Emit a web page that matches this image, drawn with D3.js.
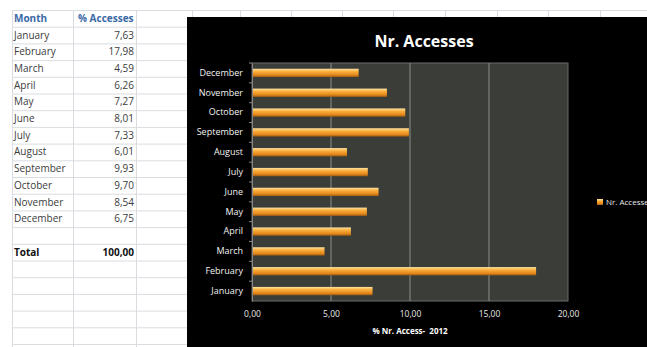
<!DOCTYPE html>
<html>
<head>
<meta charset="utf-8">
<script src="https://cdn.jsdelivr.net/npm/d3@7"></script>
<style>
  body { margin: 0; background: #fff; }
  svg { display: block; font-family: "Open Sans", sans-serif; }
</style>
</head>
<body>
<div id="chart"></div>
<script>
// table + chart data
var months = ["January", "February", "March", "April", "May", "June",
              "July", "August", "September", "October", "November", "December"];
var accesses = [7.63, 17.98, 4.59, 6.26, 7.27, 8.01, 7.33, 6.01, 9.93, 9.70, 8.54, 6.75];
var xTicks = [0, 5, 10, 15, 20];
var chartTitle = "Nr. Accesses";
var axisTitle = "% Nr. Access-  2012";
var seriesName = "Nr. Accesses";

var W = 647, H = 347;
var fmt = function(v) { return d3.format(".2f")(v).replace(".", ","); };

var svg = d3.select("#chart").append("svg")
    .attr("width", W)
    .attr("height", H);

// ---- spreadsheet behind ----
var rowTop = 10, rowH = 16.7;
var nRows = Math.ceil((H - rowTop) / rowH) + 1;
var sheet = svg.append("g").attr("class", "sheet");

sheet.selectAll(".hline")
    .data(d3.range(nRows))
    .enter().append("line")
    .attr("x1", 12).attr("x2", W)
    .attr("y1", function(i) { return rowTop + i * rowH + 0.5; })
    .attr("y2", function(i) { return rowTop + i * rowH + 0.5; })
    .attr("stroke", "#d9dce0");

sheet.selectAll(".vline")
    .data([12, 73, 136, 192, 240, 291, 342, 393, 445, 497, 548, 600])
    .enter().append("line")
    .attr("x1", function(d) { return d + 0.5; })
    .attr("x2", function(d) { return d + 0.5; })
    .attr("y1", rowTop).attr("y2", H)
    .attr("stroke", "#d9dce0");

function rowY(i) { return rowTop + i * rowH + rowH / 2; }

sheet.append("text")
    .attr("x", 14).attr("y", rowY(0)).attr("dy", "0.35em")
    .attr("font-size", 10).attr("font-weight", "bold").attr("fill", "#3a6aa6")
    .text("Month");
sheet.append("text")
    .attr("x", 78).attr("y", rowY(0)).attr("dy", "0.35em")
    .attr("font-size", 10).attr("font-weight", "bold").attr("fill", "#3a6aa6")
    .text("% Accesses");

sheet.selectAll(".mname")
    .data(months)
    .enter().append("text")
    .attr("x", 14)
    .attr("y", function(d, i) { return rowY(i + 1); })
    .attr("dy", "0.35em")
    .attr("font-size", 10).attr("fill", "#3c3c3c")
    .text(function(d) { return d; });

sheet.selectAll(".mval")
    .data(accesses)
    .enter().append("text")
    .attr("x", 134)
    .attr("y", function(d, i) { return rowY(i + 1); })
    .attr("dy", "0.35em")
    .attr("text-anchor", "end")
    .attr("font-size", 10).attr("fill", "#3c3c3c")
    .text(function(d) { return fmt(d); });

sheet.append("text")
    .attr("x", 14).attr("y", rowY(14)).attr("dy", "0.35em")
    .attr("font-size", 10).attr("font-weight", "bold").attr("fill", "#111")
    .text("Total");
sheet.append("text")
    .attr("x", 134).attr("y", rowY(14)).attr("dy", "0.35em")
    .attr("text-anchor", "end")
    .attr("font-size", 10).attr("font-weight", "bold").attr("fill", "#111")
    .text(fmt(d3.sum(accesses)));

// ---- chart ----
var chartBox = { x: 187, y: 17 };
var plot = { left: 252, top: 63, right: 568, bottom: 301 };

svg.append("rect")
    .attr("x", chartBox.x).attr("y", chartBox.y)
    .attr("width", W - chartBox.x).attr("height", H - chartBox.y)
    .attr("fill", "#000");

var defs = svg.append("defs");
var grad = defs.append("linearGradient")
    .attr("id", "barGrad")
    .attr("x1", 0).attr("y1", 0).attr("x2", 0).attr("y2", 1);
grad.append("stop").attr("offset", "0%").attr("stop-color", "#ffe2a0");
grad.append("stop").attr("offset", "35%").attr("stop-color", "#f9ae3a");
grad.append("stop").attr("offset", "75%").attr("stop-color", "#e5871c");
grad.append("stop").attr("offset", "100%").attr("stop-color", "#9a5a10");

var x = d3.scaleLinear()
    .domain([0, 20])
    .range([plot.left, plot.right]);

var y = d3.scaleBand()
    .domain(months.slice().reverse())
    .range([plot.top, plot.bottom])
    .paddingInner(0.58)
    .paddingOuter(0.29);

svg.append("rect")
    .attr("x", plot.left).attr("y", plot.top)
    .attr("width", plot.right - plot.left).attr("height", plot.bottom - plot.top)
    .attr("fill", "#3b3d39")
    .attr("stroke", "#6a6c68");

svg.append("g")
    .selectAll("line")
    .data(xTicks.slice(1, -1))
    .enter().append("line")
    .attr("x1", function(d) { return x(d); })
    .attr("x2", function(d) { return x(d); })
    .attr("y1", plot.top).attr("y2", plot.bottom)
    .attr("stroke", "#8c8e8a");

svg.append("g")
    .selectAll(".bar")
    .data(accesses)
    .enter().append("rect")
    .attr("class", "bar")
    .attr("x", x(0))
    .attr("y", function(d, i) { return y(months[i]); })
    .attr("width", function(d) { return x(d) - x(0); })
    .attr("height", y.bandwidth())
    .attr("fill", "url(#barGrad)");

// y axis
var yAxis = svg.append("g")
    .attr("transform", "translate(" + plot.left + ",0)")
    .call(d3.axisLeft(y).tickSize(0).tickPadding(9));
yAxis.select(".domain").attr("stroke", "#888");
yAxis.selectAll("text")
    .attr("fill", "#f2f2f2")
    .attr("font-size", 9)
    .attr("font-family", "Open Sans, sans-serif");

// little band-edge ticks
svg.append("g")
    .selectAll("line")
    .data(months)
    .enter().append("line")
    .attr("x1", plot.left - 3).attr("x2", plot.left)
    .attr("y1", function(d) { return y(d) - y.step() * y.paddingInner() / 2; })
    .attr("y2", function(d) { return y(d) - y.step() * y.paddingInner() / 2; })
    .attr("stroke", "#888");

// x axis
var xAxis = svg.append("g")
    .attr("transform", "translate(0," + plot.bottom + ")")
    .call(d3.axisBottom(x).tickValues(xTicks).tickSize(0).tickPadding(10).tickFormat(fmt));
xAxis.select(".domain").remove();
xAxis.selectAll("text")
    .attr("fill", "#e8e8e8")
    .attr("font-size", 8.5)
    .attr("font-family", "Open Sans, sans-serif");

svg.append("text")
    .attr("x", (plot.left + plot.right) / 2)
    .attr("y", 334)
    .attr("text-anchor", "middle")
    .style("white-space", "pre")
    .attr("font-size", 8).attr("font-weight", "bold").attr("fill", "#fff")
    .text(axisTitle);

svg.append("text")
    .attr("x", 424)
    .attr("y", 47)
    .attr("text-anchor", "middle")
    .attr("font-size", 16).attr("font-weight", "bold").attr("fill", "#fff")
    .text(chartTitle);

// legend (runs off the right edge, as in the source picture)
var legend = svg.append("g").attr("transform", "translate(597,199)");
legend.append("rect")
    .attr("width", 6).attr("height", 6)
    .attr("fill", "url(#barGrad)");
legend.append("text")
    .attr("x", 9).attr("y", 3).attr("dy", "0.35em")
    .attr("font-size", 8).attr("fill", "#e8e8e8")
    .text(seriesName);
</script>
</body>
</html>
